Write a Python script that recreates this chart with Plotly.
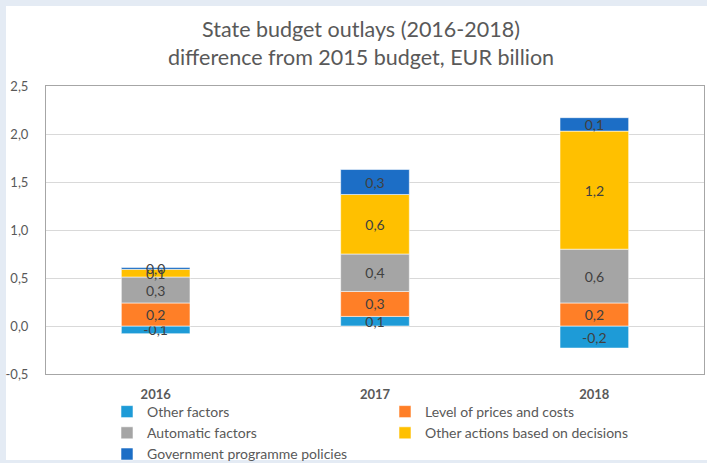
import plotly.graph_objects as go

# Years on the category axis
years = ["2016", "2017", "2018"]

# Components of the change in outlays, EUR billion
other_factors = [-0.08, 0.10, -0.23]
prices_costs = [0.24, 0.26, 0.24]
automatic_factors = [0.27, 0.39, 0.56]
decision_actions = [0.08, 0.62, 1.23]
programme_policies = [0.02, 0.26, 0.14]

# Value axis ticks
y_ticks = [-0.5, 0.0, 0.5, 1.0, 1.5, 2.0, 2.5]


def fmt(v):
    return f"{v:.1f}".replace(".", ",")


series = [
    ("Other factors", other_factors, "#1E9BD7"),
    ("Level of prices and costs", prices_costs, "#FF7F27"),
    ("Automatic factors", automatic_factors, "#A5A5A5"),
    ("Other actions based on decisions", decision_actions, "#FFC000"),
    ("Government programme policies", programme_policies, "#1C6EC6"),
]

FONT = "Lato"
TXT = "#595959"

fig = go.Figure()
for name, vals, color in series:
    fig.add_trace(go.Bar(
        x=years, y=vals, name=name,
        marker=dict(color=color, line=dict(color="rgba(255,255,255,0.55)", width=1)),
        text=[fmt(v) for v in vals],
        textposition="inside",
        insidetextanchor="middle",
        textangle=0,
        constraintext="none",
        textfont=dict(family=FONT, size=14, color="#404040"),
        hoverinfo="skip",
    ))

W, H = 707, 463
ml, mr, mt, mb = 46, 3, 86, 89
pw, ph = W - ml - mr, H - mt - mb

fig.update_layout(
    width=W, height=H,
    margin=dict(l=ml, r=mr, t=mt, b=mb, pad=0, autoexpand=False),
    barmode="relative",
    bargap=0.687,
    paper_bgcolor="#E4EBF4",
    plot_bgcolor="white",
    font=dict(family=FONT, color=TXT),
    uniformtext=dict(minsize=14, mode="show"),
    title=dict(
        text="State budget outlays (2016-2018)<br>difference from 2015 budget, EUR billion",
        x=361 / W, xanchor="center", xref="container",
        y=1 - 37 / H, yanchor="top", yref="container",
        font=dict(family=FONT, size=21.5, color=TXT),
    ),
    xaxis=dict(
        showgrid=False, showline=True, mirror=True, linecolor="#A6A6A6", linewidth=1,
        tickfont=dict(family=FONT, size=13, color=TXT, weight="bold"),
        ticks="", ticklabelstandoff=8,
    ),
    yaxis=dict(
        range=[-0.5, 2.5], tickvals=y_ticks, ticktext=[fmt(v) for v in y_ticks],
        showgrid=True, gridcolor="#D9D9D9", gridwidth=1,
        zeroline=False,
        showline=True, mirror=True, linecolor="#A6A6A6", linewidth=1,
        tickfont=dict(family=FONT, size=13, color=TXT),
        ticks="", ticklabelstandoff=14,
    ),
    legend=dict(
        orientation="h",
        x=(107 - ml) / pw, xanchor="left",
        y=-(396 - (H - mb)) / ph,
        yanchor="top",
        entrywidth=233, entrywidthmode="pixels",
        traceorder="normal",
        font=dict(family=FONT, size=14, color=TXT),
        bgcolor="rgba(0,0,0,0)",
        itemclick=False,
    ),
    showlegend=True,
    shapes=[dict(
        type="rect", xref="paper", yref="paper", layer="below",
        x0=(6 - ml) / pw, x1=(W - ml) / pw + 0.01,
        y0=-(460 - (H - mb)) / ph, y1=(H - mb - 6) / ph,
        fillcolor="white", line=dict(width=0),
    )],
)

fig.write_html("out.html")
